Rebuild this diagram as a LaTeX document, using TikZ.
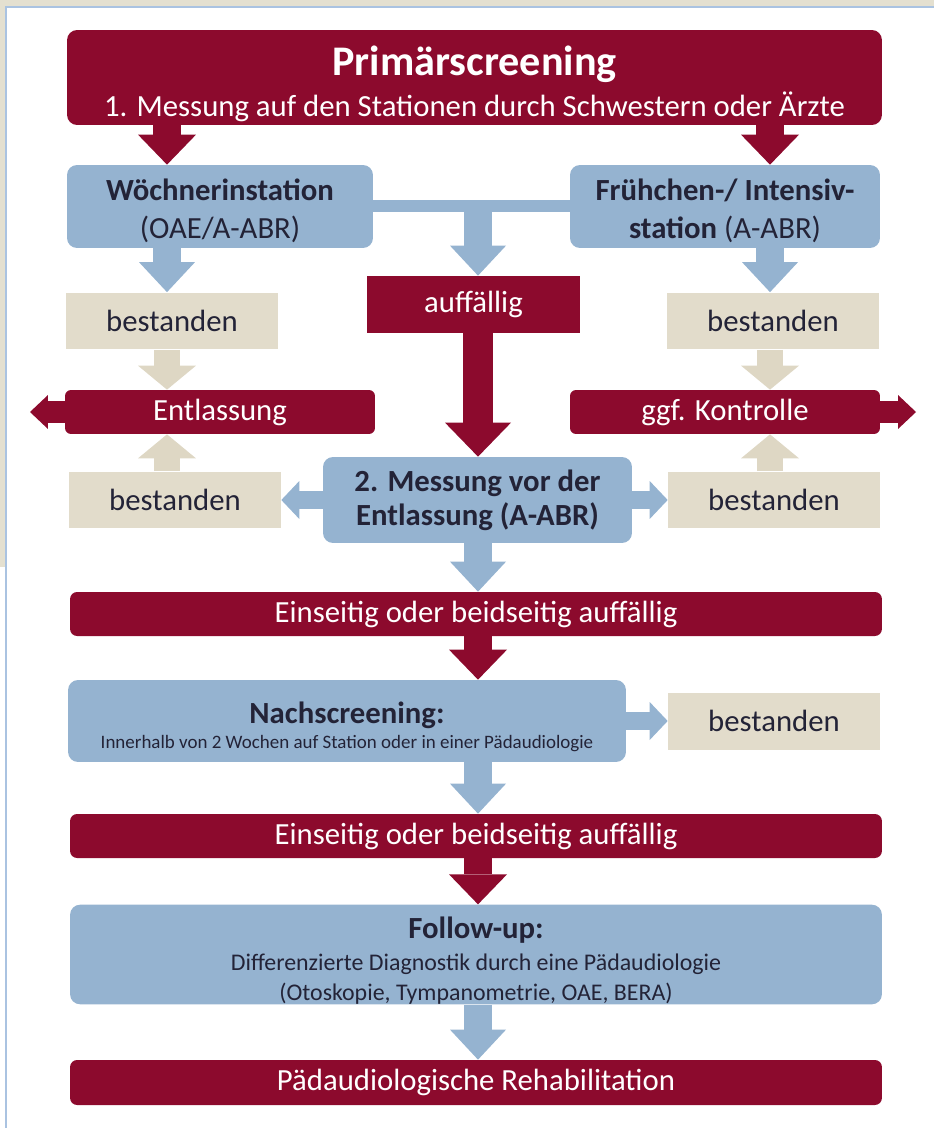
\documentclass[tikz,border=0pt]{standalone}
\usepackage{fontspec}
\setmainfont{Carlito}
\usetikzlibrary{arrows.meta, positioning}
\definecolor{darkred}{RGB}{140,10,45}
\definecolor{boxblue}{RGB}{149,179,208}
\definecolor{boxbeige}{RGB}{226,220,203}
\definecolor{arrbeige}{RGB}{222,215,196}
\definecolor{bgbeige}{RGB}{228,224,208}
\definecolor{edgeblue}{RGB}{170,195,225}
\definecolor{textdark}{RGB}{35,35,55}
\newcommand{\lbl}{\fontsize{17.5}{21.5}\selectfont}
\newcommand{\smalllbl}{\fontsize{13.6}{17}\selectfont}

\begin{document}
\begin{tikzpicture}[x=0.02cm, y=-0.02cm,
  redbox/.style={fill=darkred, text=white, rounded corners=0.2cm, inner sep=0pt, align=center, font=\lbl},
  bluebox/.style={fill=boxblue, text=textdark, rounded corners=0.2cm, inner sep=0pt, align=center, font=\lbl},
  beigebox/.style={fill=boxbeige, text=textdark, inner sep=0pt, minimum width=4.24cm, minimum height=1.14cm, font=\lbl},
  redarrow/.style={darkred, line width=0.56cm, -{Triangle[width=1.16cm,length=0.6cm,line width=0pt]}},
  bigarrow/.style={darkred, line width=0.6cm, -{Triangle[width=1.32cm,length=0.68cm,line width=0pt]}},
  bluearrow/.style={boxblue, line width=0.56cm, -{Triangle[width=1.12cm,length=0.6cm,line width=0pt]}},
  sidearrow/.style={boxblue, line width=0.36cm, -{Triangle[width=0.76cm,length=0.36cm,line width=0pt]}},
  beigearrow/.style={arrbeige, line width=0.52cm, -{Triangle[width=1.16cm,length=0.48cm,line width=0pt]}},
  outarrow/.style={darkred, line width=0.44cm, -{Triangle[width=0.68cm,length=0.36cm,line width=0pt]}}]
\useasboundingbox (0,0) rectangle (934,1128);
%background of the screenshot
\fill[bgbeige] (0,0) rectangle (934,7);
\fill[bgbeige] (0,0) rectangle (6,567);
\draw[edgeblue, line width=1pt] (6,1128) -- (6,7) -- (934,7);
%columns for the arrows
\coordinate (lx) at (167,0);
\coordinate (rx) at (770,0);
\coordinate (mx) at (478,0);
\coordinate (entlEnd) at (30,412);
\coordinate (kontrEnd) at (916,412);
%top box
\node[redbox, minimum width=16.3cm, minimum height=1.9cm] (top) at (474.5,77.5)
  {\rule{0pt}{24pt}{\fontsize{24}{26}\selectfont\bfseries Primärscreening}\\[2pt]1. Messung auf den Stationen durch Schwestern oder Ärzte};
%stations
\node[bluebox, minimum width=6.12cm, minimum height=1.66cm] (woech) at (220,206.5)
  {\rule{0pt}{17.5pt}\textbf{Wöchnerinstation}\\(OAE/A-ABR)};
\node[bluebox, minimum width=6.2cm, minimum height=1.66cm] (frueh) at (725,206.5)
  {\rule{0pt}{17.5pt}\textbf{Frühchen-/ Intensiv-}\\\textbf{station} (A-ABR)};
\node[redbox, rounded corners=0pt, minimum width=4.26cm, minimum height=1.14cm] (auff) at (473.5,304.5) {auffällig};
%bestanden / Entlassung
\node[beigebox] (best1) at (172,321) {bestanden};
\node[beigebox] (best2) at (773,321) {bestanden};
\node[redbox, rounded corners=0.12cm, minimum width=6.2cm, minimum height=0.88cm] (entl) at (220,412) {Entlassung};
\node[redbox, rounded corners=0.12cm, minimum width=6.2cm, minimum height=0.88cm] (kontr) at (725,412) {ggf. Kontrolle};
\node[beigebox] (best3) at (175,500) {bestanden};
\node[beigebox] (best4) at (774,500) {bestanden};
\node[bluebox, minimum width=6.18cm, minimum height=1.72cm] (mess2) at (477.5,500)
  {\textbf{2. Messung vor der}\\[-2pt]\textbf{Entlassung (A-ABR)}};
%lower chain
\node[redbox, rounded corners=0.14cm, minimum width=16.24cm, minimum height=0.88cm] (ein1) at (476,614) {Einseitig oder beidseitig auffällig};
\node[bluebox, minimum width=11.16cm, minimum height=1.64cm] (nach) at (347,721)
  {\rule{0pt}{19pt}\textbf{Nachscreening:}\\[-7pt]{\fontsize{10.8}{12}\selectfont Innerhalb von 2 Wochen auf Station oder in einer Pädaudiologie}};
\node[beigebox] (best5) at (774,721) {bestanden};
\node[redbox, rounded corners=0.14cm, minimum width=16.24cm, minimum height=0.88cm] (ein2) at (476,836) {Einseitig oder beidseitig auffällig};
\node[bluebox, minimum width=16.24cm, minimum height=1.9cm] (follow) at (476,954.5)
  {\rule{0pt}{19pt}\textbf{Follow-up:}\\[-3pt]{\smalllbl Differenzierte Diagnostik durch eine Pädaudiologie}\\[-4.5pt]{\smalllbl (Otoskopie, Tympanometrie, OAE, BERA)}};
\node[redbox, rounded corners=0.14cm, minimum width=16.24cm, minimum height=0.9cm] (reha) at (476,1082.5) {Pädaudiologische Rehabilitation};
%arrows
\draw[redarrow] (top.south -| lx) -- (woech.north -| lx);
\draw[redarrow] (top.south -| rx) -- (frueh.north -| rx);
\draw[bluearrow] (woech.south -| lx) -- (best1.north -| lx);
\draw[bluearrow] (frueh.south -| rx) -- (best2.north -| rx);
\draw[boxblue, line width=0.24cm] (woech.east) -- (frueh.west);
\draw[bluearrow] (woech.east -| mx) -- (auff.north -| mx);
\draw[beigearrow] (best1.south -| lx) -- (entl.north -| lx);
\draw[beigearrow] (best3.north -| lx) -- (entl.south -| lx);
\draw[beigearrow] (best2.south -| rx) -- (kontr.north -| rx);
\draw[beigearrow] (best4.north -| rx) -- (kontr.south -| rx);
\draw[outarrow] (entl.west) -- (entlEnd);
\draw[outarrow] (kontr.east) -- (kontrEnd);
\draw[bigarrow] (auff.south -| mx) -- (mess2.north -| mx);
\draw[sidearrow] (mess2.west) -- (mess2.west -| best3.east);
\draw[sidearrow] (mess2.east) -- (mess2.east -| best4.west);
\draw[bluearrow] (mess2.south -| mx) -- (ein1.north -| mx);
\draw[redarrow] (ein1.south -| mx) -- (nach.north -| mx);
\draw[sidearrow] (nach.east) -- (nach.east -| best5.west);
\draw[bluearrow] (nach.south -| mx) -- (ein2.north -| mx);
\draw[redarrow] (ein2.south -| mx) -- (follow.north -| mx);
\draw[bluearrow] (follow.south -| mx) -- (reha.north -| mx);
\end{tikzpicture}
\end{document}
